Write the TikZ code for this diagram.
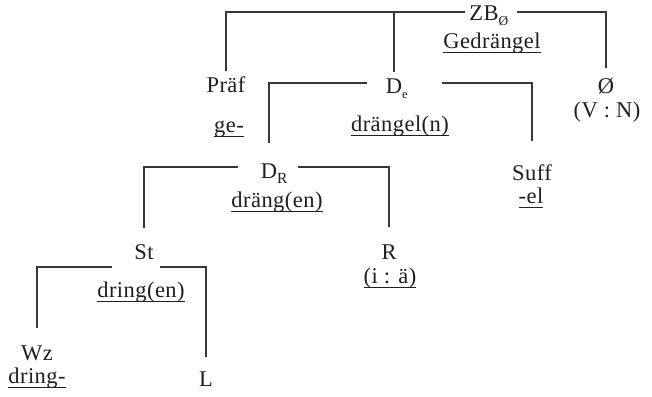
\documentclass[tikz,border=0pt]{standalone}
\usepackage{fontspec}
\setmainfont[LetterSpace=2]{Liberation Serif}
\newcommand\ulw[1]{\setbox0\hbox{#1}\leavevmode\rlap{\rule[-0.24em]{\wd0}{0.8pt}}\box0}
\begin{document}
\begin{tikzpicture}[x=0.025cm,y=-0.025cm,
  every node/.style={inner sep=0pt, anchor=base, text=black!88, font=\fontsize{16}{18}\selectfont},
  conn/.style={draw=black!78, line width=0.9pt}]
\useasboundingbox[fill=white] (0,0) rectangle (652,396);

% nodes
\node (ZB) at (484,20) {ZB\rlap{\raisebox{-4pt}{\fontsize{9.5}{9.5}\selectfont Ø}}};
\node (ZBw) at (492,48) {\ulw{Gedrängel}};
\node (Praf) at (226,92) {Präf};
\node (De) at (394,93) {D\rlap{\raisebox{-4pt}{\fontsize{9}{9}\selectfont e}}};
\node (Null) at (606,93) {Ø};
\node (VN) at (607,117) {(V : N)};
\node (Prafw) at (229,132) {\ulw{ge-}};
\node (Dew) at (400,131) {\ulw{drängel(n)}};
\node (DR) at (269,178) {D\rlap{\raisebox{-4pt}{\fontsize{11}{11}\selectfont R}}};
\node (DRw) at (277,207) {\ulw{dräng(en)}};
\node (Suff) at (532,180) {Suff};
\node (Suffw) at (531,203) {\ulw{-el}};
\node (St) at (144,259) {St};
\node (Stw) at (141,297) {\ulw{dring(en)}};
\node (R) at (389,259) {R};
\node (Rw) at (390,283) {\ulw{(i : ä)}};
\node (Wz) at (37,360) {Wz};
\node (Wzw) at (37,383) {\ulw{dring-}};
\node (L) at (206,386) {L};

% branch start points
\coordinate (ZBl) at (465,12);
\coordinate (ZBm) at (394,12);
\coordinate (ZBr) at (517,12);
\coordinate (DeL) at (367,83);
\coordinate (DeR) at (442,83);
\coordinate (DRl) at (238,167);
\coordinate (DRr) at (298,167);
\coordinate (Stl) at (112,267);
\coordinate (Str) at (160,267);

% connectors
\draw[conn] (ZBl) -| ([yshift=3.5pt]Praf.north);
\draw[conn] (ZBm) -- ([yshift=4pt]De.north);
\draw[conn] (ZBr) -| ([yshift=6.4pt]Null.north);
\draw[conn] (DeL) -| ([yshift=14.5pt]DR.north);
\draw[conn] (DeR) -| ([yshift=16pt]Suff.north);
\draw[conn] (DRl) -| ([yshift=11.5pt]St.north);
\draw[conn] (DRr) -| ([yshift=12.4pt]R.north);
\draw[conn] (Stl) -| ([yshift=12.4pt]Wz.north);
\draw[conn] (Str) -| ([yshift=9.6pt]L.north);
\end{tikzpicture}
\end{document}
